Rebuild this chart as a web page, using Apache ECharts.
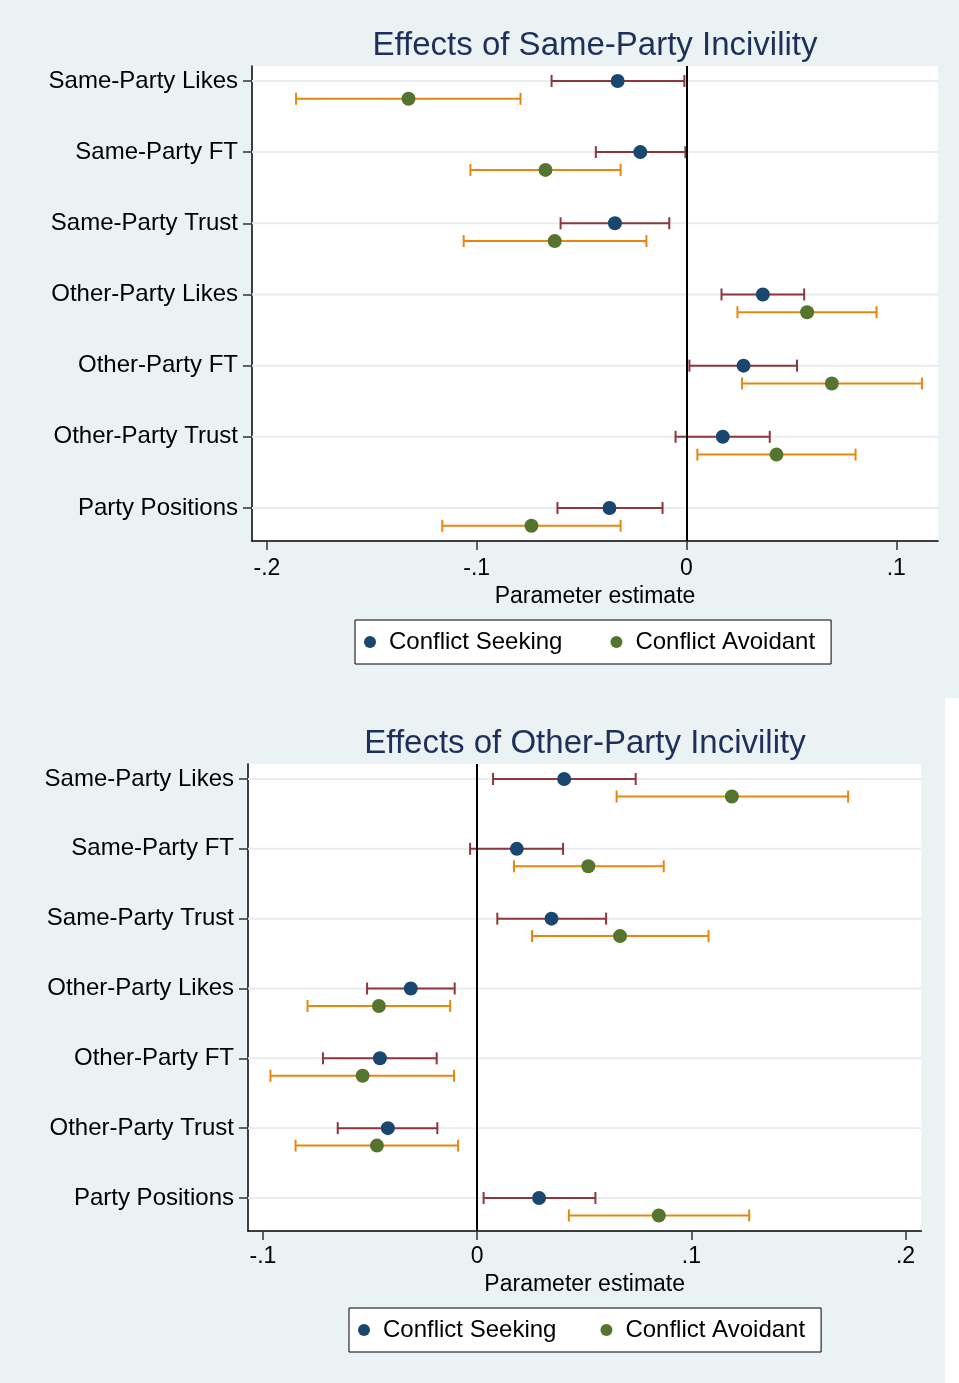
<!DOCTYPE html>
<html><head><meta charset="utf-8">
<script src="https://cdn.jsdelivr.net/npm/echarts@6/dist/echarts.min.js"></script>
<style>
html,body{margin:0;padding:0;background:#ffffff;}
#c1{position:absolute;left:0;top:0;width:959px;height:698px;}
#c2{position:absolute;left:0;top:698px;width:945px;height:685px;}
</style></head><body>
<div id="c1"></div><div id="c2"></div>
<script>
const categories = ['Same-Party Likes','Same-Party FT','Same-Party Trust','Other-Party Likes','Other-Party FT','Other-Party Trust','Party Positions'];
const seriesNames = ['Conflict Seeking','Conflict Avoidant'];

// Panel 1: Effects of Same-Party Incivility
const xTicks1 = [-0.2,-0.1,0,0.1];
const seekEst1 = [-0.0328,-0.0220,-0.0341,0.0364,0.0272,0.0173,-0.0367];
const seekLo1  = [-0.0643,-0.0432,-0.0600,0.0167,0.0014,-0.0052,-0.0615];
const seekHi1  = [-0.0010,-0.0005,-0.0082,0.0561,0.0527,0.0397,-0.0114];
const avoidEst1 = [-0.1325,-0.0672,-0.0628,0.0575,0.0693,0.0429,-0.0739];
const avoidLo1  = [-0.1861,-0.1030,-0.1062,0.0243,0.0265,0.0052,-0.1164];
const avoidHi1  = [-0.0791,-0.0314,-0.0191,0.0906,0.1123,0.0806,-0.0314];

// Panel 2: Effects of Other-Party Incivility
const xTicks2 = [-0.1,0,0.1,0.2];
const seekEst2 = [0.0406,0.0185,0.0347,-0.0310,-0.0454,-0.0417,0.0289];
const seekLo2  = [0.0074,-0.0033,0.0094,-0.0514,-0.0720,-0.0651,0.0030];
const seekHi2  = [0.0740,0.0401,0.0602,-0.0105,-0.0189,-0.0186,0.0552];
const avoidEst2 = [0.1189,0.0519,0.0667,-0.0459,-0.0535,-0.0468,0.0848];
const avoidLo2  = [0.0651,0.0172,0.0256,-0.0792,-0.0965,-0.0848,0.0428];
const avoidHi2  = [0.1732,0.0871,0.1080,-0.0126,-0.0108,-0.0089,0.1270];

const OFFSET = 0.25;
const FONT = '"Liberation Sans", Arial, Helvetica, sans-serif';
const BG = '#eaf2f3';
const C_SEEK_PT = '#1a476f', C_AVOID_PT = '#55752f';
const C_SEEK_CI = '#90353b', C_AVOID_CI = '#e8870e';

function fmtTick(v){
  if (Math.abs(v) < 1e-9) return '0';
  let s = String(Math.round(v*10)/10);
  return s.replace('0.', '.');
}

function errRenderer(color){
  return function(params, api){
    const y = api.value(2);
    const p1 = api.coord([api.value(0), y]);
    const p2 = api.coord([api.value(1), y]);
    const h = 6;
    const st = {stroke: color, lineWidth: 2};
    return {type:'group', children:[
      {type:'line', shape:{x1:p1[0],y1:p1[1],x2:p2[0],y2:p2[1]}, style:st},
      {type:'line', shape:{x1:p1[0],y1:p1[1]-h,x2:p1[0],y2:p1[1]+h}, style:st},
      {type:'line', shape:{x1:p2[0],y1:p2[1]-h,x2:p2[0],y2:p2[1]+h}, style:st}
    ]};
  };
}
function gridRender(params, api){
  const p = api.coord([0, api.value(1)]);
  const cs = params.coordSys;
  return {type:'line', shape:{x1:cs.x, y1:p[1], x2:cs.x+cs.width, y2:p[1]}, style:{stroke:'#e6eef1', lineWidth:2}};
}

function build(cfg){
  const yIdx = categories.map((c,i)=>i);
  return {
    animation:false,
    backgroundColor: BG,
    title:{text:cfg.title, left:cfg.titleLeft, top:cfg.titleTop, textAlign:'center',
      textStyle:{fontFamily:FONT, fontSize:33, fontWeight:'normal', color:'#1e2f5c'}},
    legend:{data:seriesNames, left:cfg.legLeft, top:cfg.legTop, icon:'circle', itemWidth:12, itemHeight:12,
      itemGap:cfg.legGap, padding:[10,16,10,9], backgroundColor:'#ffffff', borderColor:'#000000', borderWidth:1,
      borderRadius:0, textStyle:{fontFamily:FONT, fontSize:24, color:'#000', padding:[0,0,0,8]}},
    grid:{left:cfg.gl, right:cfg.gr, top:cfg.gt, bottom:cfg.gb, show:true, backgroundColor:'#ffffff', borderWidth:0},
    xAxis:{type:'value', min:cfg.xmin, max:cfg.xmax, name:'Parameter estimate', nameLocation:'middle', nameGap:cfg.nameGap,
      nameTextStyle:{fontFamily:FONT, fontSize:23, color:'#000'},
      axisLine:{show:true, onZero:false, lineStyle:{color:'#000', width:1.5}},
      axisTick:{show:true, length:9, customValues:cfg.xTicks, lineStyle:{color:'#333', width:1.5}},
      axisLabel:{customValues:cfg.xTicks, formatter:fmtTick, margin:cfg.labMargin, fontFamily:FONT, fontSize:23, color:'#000'},
      splitLine:{show:false}},
    yAxis:{type:'value', inverse:true, min:cfg.ymin, max:cfg.ymax,
      axisLine:{show:true, onZero:false, lineStyle:{color:'#000', width:1.5}},
      axisTick:{show:true, length:9, customValues:yIdx, lineStyle:{color:'#333', width:1.5}},
      axisLabel:{customValues:yIdx, formatter:v=>categories[Math.round(v)], margin:14, padding:[6,0,0,0],
        fontFamily:FONT, fontSize:24, color:'#000'},
      splitLine:{show:false}},
    series:[
      {type:'custom', name:'grid', silent:true, z:1, renderItem:gridRender, encode:{x:0,y:1},
        data:yIdx.map(i=>[0,i]),
        markLine:{silent:true, symbol:['none','none'], label:{show:false}, lineStyle:{color:'#000', width:2, type:'solid'},
          data:[{xAxis:0}]}},
      {type:'custom', name:'seekCI', silent:true, z:3, renderItem:errRenderer(C_SEEK_CI), encode:{x:[0,1],y:2},
        data:yIdx.map(i=>[cfg.sLo[i], cfg.sHi[i], i])},
      {type:'custom', name:'avoidCI', silent:true, z:3, renderItem:errRenderer(C_AVOID_CI), encode:{x:[0,1],y:2},
        data:yIdx.map(i=>[cfg.aLo[i], cfg.aHi[i], i+OFFSET])},
      {type:'scatter', name:seriesNames[0], z:4, symbol:'circle', symbolSize:14, itemStyle:{color:C_SEEK_PT, opacity:1},
        data:yIdx.map(i=>[cfg.sEst[i], i])},
      {type:'scatter', name:seriesNames[1], z:4, symbol:'circle', symbolSize:14, itemStyle:{color:C_AVOID_PT, opacity:1},
        data:yIdx.map(i=>[cfg.aEst[i], i+OFFSET])}
    ]
  };
}

const ch1 = echarts.init(document.getElementById('c1'), null, {renderer:'canvas'});
ch1.setOption(build({
  title:'Effects of Same-Party Incivility', titleLeft:590, titleTop:24,
  legLeft:355, legTop:620, legGap:48, nameGap:38, labMargin:16,
  gl:252, gr:21, gt:66, gb:157,
  xmin:-0.2071, xmax:0.1199, xTicks:xTicks1, ymin:-0.21, ymax:6.464,
  sEst:seekEst1, sLo:seekLo1, sHi:seekHi1, aEst:avoidEst1, aLo:avoidLo1, aHi:avoidHi1
}));
const ch2 = echarts.init(document.getElementById('c2'), null, {renderer:'canvas'});
ch2.setOption(build({
  title:'Effects of Other-Party Incivility', titleLeft:580, titleTop:24,
  legLeft:349, legTop:610, legGap:44, nameGap:36, labMargin:14,
  gl:248, gr:23.6, gt:66, gb:152,
  xmin:-0.1070, xmax:0.2074, xTicks:xTicks2, ymin:-0.215, ymax:6.473,
  sEst:seekEst2, sLo:seekLo2, sHi:seekHi2, aEst:avoidEst2, aLo:avoidLo2, aHi:avoidHi2
}));
</script>
</body></html>
